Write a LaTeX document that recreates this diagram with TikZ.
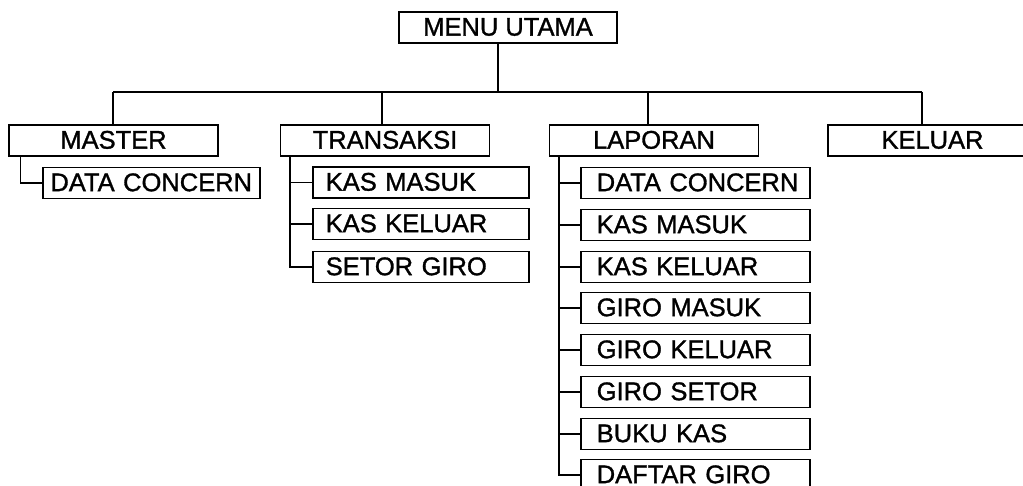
\documentclass[tikz,border=0pt]{standalone}
\usepackage{fontspec}
\setmainfont{Liberation Sans}[BoldFont=Liberation Sans, BoldFeatures={FakeBold=1.2}]
\begin{document}
\begin{tikzpicture}[x=1pt,y=-1pt,
  every node/.style={font=\fontsize{25.5}{30}\selectfont\bfseries},
  box/.style={draw, line width=1.5pt, rectangle, inner ysep=0pt, minimum height=31pt, text height=18.3pt, text depth=2pt},
  topbox/.style={box, minimum width=209pt},
  lchild/.style={box, anchor=west, inner xsep=16pt, minimum width=229pt, text width=197pt, align=left},
  tchild/.style={box, anchor=west, inner xsep=13pt, minimum width=216pt, text width=190pt, align=left},
  mchild/.style={box, anchor=west, inner xsep=4pt, minimum width=217pt, text width=209pt, align=center},
  link/.style={draw, line width=1.5pt}]
\useasboundingbox (0,0) rectangle (1023,486);
\fill[white] (0,0) rectangle (1023,486);

\node[box, minimum width=218pt] (menu) at (508,27.5) {MENU UTAMA};
\node[topbox] (master) at (113.5,140.5) {MASTER};
\node[topbox] (trans) at (385,140.5) {TRANSAKSI};
\node[topbox] (lap) at (654,140.5) {LAPORAN};
\node[topbox] (kel) at (932.5,140.5) {KELUAR};

\coordinate (bus) at (498,92);
\coordinate (bM) at (113,92);
\coordinate (bT) at (382,92);
\coordinate (bL) at (648,92);
\coordinate (bK) at (922,92);

\path[link] (menu.south -| bus) -- (bus);
\path[link] (bM) -- (bK);
\path[link] (bM) -- (bM |- master.north);
\path[link] (bT) -- (bT |- trans.north);
\path[link] (bL) -- (bL |- lap.north);
\path[link] (bK) -- (bK |- kel.north);

% MASTER children
\node[mchild] (mdc) at (42,183) {\mbox{DATA CONCERN}};
\path[link] (master.south west) ++(12,0) |- (mdc.west);

% TRANSAKSI children
\node[tchild] (tkm) at (312,182.5) {\mbox{KAS MASUK}};
\node[tchild] (tkk) at (312,224) {\mbox{KAS KELUAR}};
\node[tchild] (tsg) at (312,267) {\mbox{SETOR GIRO}};
\path[link] (trans.south west) ++(10,0) coordinate (tv) |- (tsg.west);
\path[link] (tv |- tkm.west) -- (tkm.west);
\path[link] (tv |- tkk.west) -- (tkk.west);

% LAPORAN children
\node[lchild] (l1) at (580,183) {\mbox{DATA CONCERN}};
\node[lchild] (l2) at (580,225) {\mbox{KAS MASUK}};
\node[lchild] (l3) at (580,267) {\mbox{KAS KELUAR}};
\node[lchild] (l4) at (580,308) {\mbox{GIRO MASUK}};
\node[lchild] (l5) at (580,350) {\mbox{GIRO KELUAR}};
\node[lchild] (l6) at (580,392) {\mbox{GIRO SETOR}};
\node[lchild] (l7) at (580,434) {\mbox{BUKU KAS}};
\node[lchild] (l8) at (580,475) {\mbox{DAFTAR GIRO}};
\path[link] (lap.south west) ++(10,0) coordinate (lv) |- (l8.west);
\foreach \n in {l1,l2,l3,l4,l5,l6,l7}
  \path[link] (lv |- \n.west) -- (\n.west);
\end{tikzpicture}
\end{document}
